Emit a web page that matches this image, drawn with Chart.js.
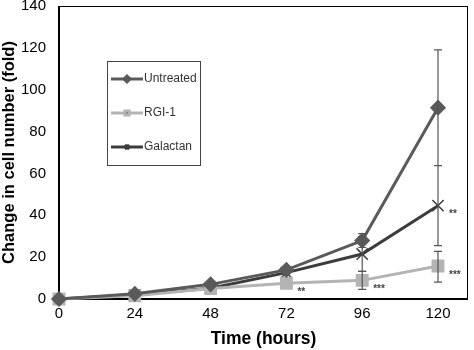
<!DOCTYPE html>
<html>
<head>
<meta charset="utf-8">
<script src="https://cdn.jsdelivr.net/npm/chart.js@4/dist/chart.umd.min.js"></script>
<style>
  html, body { margin: 0; padding: 0; background: #fff; }
  #wrap { width: 474px; height: 350px; }
</style>
</head>
<body>
<div id="wrap"><canvas id="chart"></canvas></div>
<script>
const hours = [0, 24, 48, 72, 96, 120];
const yTicks = [0, 20, 40, 60, 80, 100, 120, 140];

const untreated = [0, 2.5, 7.0, 13.9, 27.9, 91.4];
const rgi1 = [0, 1.5, 5.0, 7.5, 8.9, 15.8];
const galactan = [0, 2.0, 5.1, 12.6, 21.5, 44.6];

// error bars: [low, high] per point, null where none visible
const untreatedErr = [null, null, null, null, [24.6, 31.2], [63.8, 119]];
const rgi1Err = [null, null, null, null, [4.6, 13.2], [8.1, 22.8]];
const galactanErr = [null, null, null, null, [13.2, 29.8], [25.5, 63.7]];

// significance marks: [hour, value, text]
const stars = [
  [72, 7.5, '**'],
  [96, 8.9, '***'],
  [120, 44.6, '**'],
  [120, 15.8, '***'],
];

const toPts = (vals) => vals.map((v, i) => ({ x: hours[i], y: v }));

const errorBars = {
  id: 'errorBars',
  afterDatasetsDraw(chart) {
    const { ctx, scales: { x, y } } = chart;
    ctx.save();
    chart.data.datasets.forEach((ds) => {
      ctx.strokeStyle = ds.errColor;
      ctx.lineWidth = 1.2;
      ds.err.forEach((e, i) => {
        if (!e) return;
        const px = x.getPixelForValue(hours[i]);
        const lo = y.getPixelForValue(e[0]);
        const hi = y.getPixelForValue(e[1]);
        ctx.beginPath();
        ctx.moveTo(px, lo); ctx.lineTo(px, hi);
        ctx.moveTo(px - 4, lo); ctx.lineTo(px + 4, lo);
        ctx.moveTo(px - 4, hi); ctx.lineTo(px + 4, hi);
        ctx.stroke();
      });
    });
    ctx.fillStyle = '#444';
    ctx.font = 'bold 10px "Liberation Sans", Arial, sans-serif';
    ctx.textAlign = 'left';
    ctx.textBaseline = 'middle';
    stars.forEach(([h, v, t]) => {
      ctx.fillText(t, x.getPixelForValue(h) + 11, y.getPixelForValue(v) + 9);
    });
    ctx.restore();
  },
};

const frameAndLegend = {
  id: 'frameAndLegend',
  beforeDatasetsDraw(chart) {
    const { ctx, chartArea: a } = chart;
    ctx.save();
    ctx.strokeStyle = '#000';
    ctx.lineWidth = 1;
    ctx.strokeRect(a.left, a.top + 0.5, a.right - a.left - 0.5, a.bottom - a.top);
    ctx.lineWidth = 2;
    ctx.beginPath();
    ctx.moveTo(a.left, a.top); ctx.lineTo(a.left, a.bottom); ctx.lineTo(a.right, a.bottom);
    ctx.stroke();
    ctx.restore();
  },
  afterDraw(chart) {
    const { ctx } = chart;
    ctx.save();
    // legend box
    const bx = 107, by = 61, bw = 93, bh = 104;
    ctx.lineWidth = 1;
    ctx.strokeStyle = '#444';
    ctx.strokeRect(bx + 0.5, by + 0.5, bw, bh);
    ctx.font = '12px "Liberation Sans", Arial, sans-serif';
    ctx.textBaseline = 'middle';
    ctx.textAlign = 'left';
    chart.data.datasets.forEach((ds, i) => {
      const ly = 79 + i * 34;
      ctx.strokeStyle = ds.borderColor;
      ctx.lineWidth = 3;
      ctx.beginPath();
      ctx.moveTo(111, ly); ctx.lineTo(143, ly);
      ctx.stroke();
      Chart.helpers.drawPoint(ctx, {
        pointStyle: ds.pointStyle, radius: 3, borderWidth: 1,
      }, 127, ly);
      ctx.fillStyle = '#333';
      ctx.fillText(ds.label, 144, ly);
    });
    ctx.restore();
  },
};

new Chart(document.getElementById('chart'), {
  type: 'line',
  data: {
    datasets: [
      {
        label: 'Untreated',
        data: toPts(untreated),
        err: untreatedErr,
        errColor: '#555',
        borderColor: '#5a5a5a',
        backgroundColor: '#5a5a5a',
        pointStyle: 'rectRot',
        pointRadius: 6,
        borderWidth: 3,
        clip: false,
      },
      {
        label: 'RGI-1',
        data: toPts(rgi1),
        err: rgi1Err,
        errColor: '#555',
        borderColor: '#b4b4b4',
        backgroundColor: '#b4b4b4',
        pointStyle: 'rect',
        pointRadius: 7,
        borderWidth: 3,
        clip: false,
      },
      {
        label: 'Galactan',
        data: toPts(galactan),
        err: galactanErr,
        errColor: '#555',
        borderColor: '#3c3c3c',
        backgroundColor: '#3c3c3c',
        pointStyle: 'crossRot',
        pointRadius: 8,
        pointBorderWidth: 1.5,
        borderWidth: 3,
        clip: false,
      },
    ],
  },
  options: {
    responsive: true,
    maintainAspectRatio: false,
    animation: false,
    layout: { autoPadding: false, padding: { top: 6, right: 6, left: 0, bottom: 0 } },
    plugins: {
      legend: { display: false },
      tooltip: { enabled: false },
    },
    scales: {
      x: {
        type: 'linear',
        min: 0,
        max: 129.5,
        afterBuildTicks(axis) {
          axis.ticks = hours.map((v) => ({ value: v }));
        },
        afterFit(axis) {
          axis.paddingLeft = 0;
          axis.paddingRight = 0;
        },
        grid: { display: false, drawTicks: false },
        border: { display: false },
        ticks: {
          color: '#000',
          padding: 6,
          font: { size: 15, family: '"Liberation Sans", Arial, sans-serif' },
        },
        title: {
          display: true,
          text: 'Time (hours)',
          color: '#000',
          padding: { top: 0, bottom: 0 },
          font: { size: 17.5, weight: 'bold', family: '"Liberation Sans", Arial, sans-serif' },
        },
      },
      y: {
        min: 0,
        max: 140,
        afterBuildTicks(axis) {
          axis.ticks = yTicks.map((v) => ({ value: v }));
        },
        afterFit(axis) {
          axis.width = 59;
          axis.paddingTop = 0;
        },
        grid: { display: false, drawTicks: false },
        border: { display: false },
        ticks: {
          color: '#000',
          padding: 13,
          font: { size: 15, family: '"Liberation Sans", Arial, sans-serif' },
        },
        title: {
          display: true,
          text: 'Change in cell number (fold)',
          color: '#000',
          padding: { top: 0, bottom: 0 },
          font: { size: 16.5, weight: 'bold', family: '"Liberation Sans", Arial, sans-serif' },
        },
      },
    },
  },
  plugins: [errorBars, frameAndLegend],
});
</script>
</body>
</html>
